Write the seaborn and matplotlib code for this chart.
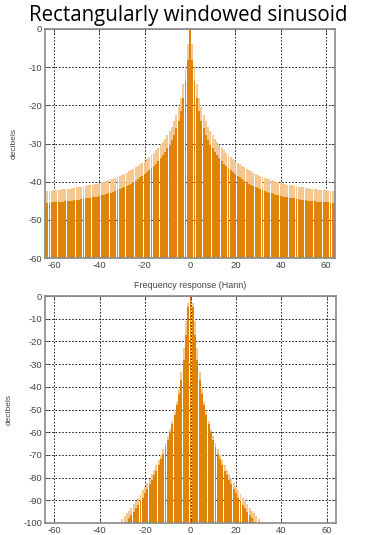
import numpy as np
import pandas as pd
import matplotlib
matplotlib.use("Agg")
import matplotlib.pyplot as plt
import seaborn as sns

# ---------------- data ----------------
bins = list(range(-64, 65))

# Rectangular window spectrum (dB), k = -64..64
rect_light = [
    -42.5, -42.5, -42.4, -42.4, -42.3, -42.2, -42.2, -42.1, -42.0, -42.0,
    -41.9, -41.8, -41.7, -41.6, -41.5, -41.4, -41.3, -41.2, -41.1, -41.0,
    -40.9, -40.8, -40.6, -40.5, -40.3, -40.2, -40.0, -39.8, -39.6, -39.4,
    -39.2, -39.0, -38.7, -38.5, -38.2, -37.9, -37.6, -37.3, -37.0, -36.6,
    -36.2, -35.8, -35.4, -35.0, -34.5, -34.0, -33.5, -33.0, -32.4, -31.8,
    -31.1, -30.4, -29.6, -28.8, -27.8, -26.8, -25.6, -24.2, -22.5, -20.5,
    -18.0, -14.5, -10.0, -4.0,
    0.0,
    -4.0, -10.0, -14.5, -18.0, -20.5, -22.5, -24.2, -25.6, -26.8, -27.8,
    -28.8, -29.6, -30.4, -31.1, -31.8, -32.4, -33.0, -33.5, -34.0, -34.5,
    -35.0, -35.4, -35.8, -36.2, -36.6, -37.0, -37.3, -37.6, -37.9, -38.2,
    -38.5, -38.7, -39.0, -39.2, -39.4, -39.6, -39.8, -40.0, -40.2, -40.3,
    -40.5, -40.6, -40.8, -40.9, -41.0, -41.1, -41.2, -41.3, -41.4, -41.5,
    -41.6, -41.7, -41.8, -41.9, -42.0, -42.0, -42.1, -42.2, -42.2, -42.3,
    -42.4, -42.4, -42.5, -42.5,
]
rect_dark = [
    -45.5, -45.5, -45.5, -45.4, -45.4, -45.3, -45.3, -45.2, -45.2, -45.1,
    -45.1, -45.0, -45.0, -44.9, -44.8, -44.7, -44.6, -44.5, -44.4, -44.3,
    -44.2, -44.1, -44.0, -43.9, -43.7, -43.6, -43.5, -43.3, -43.1, -42.9,
    -42.7, -42.5, -42.2, -42.0, -41.7, -41.4, -41.1, -40.8, -40.5, -40.1,
    -39.7, -39.3, -38.9, -38.5, -38.0, -37.5, -37.0, -36.5, -35.9, -35.3,
    -34.6, -33.9, -33.1, -32.3, -31.3, -30.3, -29.1, -27.7, -26.0, -24.0,
    -21.5, -18.0, -13.5, -8.0,
    0.0,
    -8.0, -13.5, -18.0, -21.5, -24.0, -26.0, -27.7, -29.1, -30.3, -31.3,
    -32.3, -33.1, -33.9, -34.6, -35.3, -35.9, -36.5, -37.0, -37.5, -38.0,
    -38.5, -38.9, -39.3, -39.7, -40.1, -40.5, -40.8, -41.1, -41.4, -41.7,
    -42.0, -42.2, -42.5, -42.7, -42.9, -43.1, -43.3, -43.5, -43.6, -43.7,
    -43.9, -44.0, -44.1, -44.2, -44.3, -44.4, -44.5, -44.6, -44.7, -44.8,
    -44.9, -45.0, -45.0, -45.1, -45.1, -45.2, -45.2, -45.3, -45.3, -45.4,
    -45.4, -45.5, -45.5, -45.5,
]

# Hann window spectrum (dB), k = -64..64
hann_light = [
    -110, -110, -110, -110, -110, -110, -110, -110, -110, -110,
    -110, -110, -110, -110, -110, -110, -110, -110, -110, -110,
    -110, -110, -110, -110, -110, -110, -110, -110, -110, -110,
    -110, -102.0, -100.6, -99.4, -98.2, -97.0, -95.8, -94.5, -93.2, -91.8,
    -90.3, -88.8, -87.2, -85.6, -84.0, -82.3, -80.5, -78.6, -76.6, -74.5,
    -72.3, -70.0, -67.5, -64.8, -61.8, -58.5, -55.0, -51.0, -46.5, -41.0,
    -33.5, -23.0, -11.0, -3.0,
    0.0,
    -3.0, -11.0, -23.0, -33.5, -41.0, -46.5, -51.0, -55.0, -58.5, -61.8,
    -64.8, -67.5, -70.0, -72.3, -74.5, -76.6, -78.6, -80.5, -82.3, -84.0,
    -85.6, -87.2, -88.8, -90.3, -91.8, -93.2, -94.5, -95.8, -97.0, -98.2,
    -99.4, -100.6, -102.0, -110, -110, -110, -110, -110, -110, -110,
    -110, -110, -110, -110, -110, -110, -110, -110, -110, -110,
    -110, -110, -110, -110, -110, -110, -110, -110, -110, -110,
    -110, -110, -110, -110,
]
hann_dark = [
    -110, -110, -110, -110, -110, -110, -110, -110, -110, -110,
    -110, -110, -110, -110, -110, -110, -110, -110, -110, -110,
    -110, -110, -110, -110, -110, -110, -110, -110, -110, -110,
    -110, -110, -110, -110, -102.5, -101.0, -99.5, -98.0, -96.5, -95.0,
    -93.5, -92.0, -90.5, -89.0, -87.0, -85.0, -83.0, -81.0, -79.0, -77.0,
    -74.5, -72.0, -69.5, -66.5, -63.5, -60.0, -56.5, -52.5, -48.0, -43.0,
    -37.0, -28.0, -17.0, -5.0,
    0.0,
    -5.0, -17.0, -28.0, -37.0, -43.0, -48.0, -52.5, -56.5, -60.0, -63.5,
    -66.5, -69.5, -72.0, -74.5, -77.0, -79.0, -81.0, -83.0, -85.0, -87.0,
    -89.0, -90.5, -92.0, -93.5, -95.0, -96.5, -98.0, -99.5, -101.0, -102.5,
    -110, -110, -110, -110, -110, -110, -110, -110, -110, -110,
    -110, -110, -110, -110, -110, -110, -110, -110, -110, -110,
    -110, -110, -110, -110, -110, -110, -110, -110, -110, -110,
    -110, -110, -110, -110,
]

title_text = "Rectangularly windowed sinusoid"
subtitle_text = "Frequency response (Hann)"
ylabel_text = "decibels"
xticks = [-60, -40, -20, 0, 20, 40, 60]
yticks_top = [0, -10, -20, -30, -40, -50, -60]
yticks_bot = [0, -10, -20, -30, -40, -50, -60, -70, -80, -90, -100]

DARK = "#DE7E00"
LIGHT = "#F4C487"

# ---------------- plot ----------------
sns.set_style("white")
plt.rcParams["font.family"] = ["Liberation Sans", "DejaVu Sans"]

fig = plt.figure(figsize=(3.65, 5.35), dpi=100)
ax1 = fig.add_axes([45 / 365, 1 - 258 / 535, 290 / 365, 229 / 535])
ax2 = fig.add_axes([45 / 365, 1 - 523 / 535, 291 / 365, 227 / 535])


def draw(ax, light, dark, floor, yticks):
    df_l = pd.DataFrame({"k": bins, "h": [v - floor for v in light]})
    df_d = pd.DataFrame({"k": bins, "h": [v - floor for v in dark]})
    sns.barplot(data=df_l, x="k", y="h", native_scale=True, width=0.85,
                color=LIGHT, saturation=1, linewidth=0, errorbar=None,
                bottom=floor, alpha=0.92, ax=ax)
    sns.barplot(data=df_d, x="k", y="h", native_scale=True, width=0.85,
                color=DARK, saturation=1, linewidth=0, errorbar=None,
                bottom=floor, alpha=0.93, ax=ax)
    ax.set_xlim(-64, 64)
    ax.set_ylim(floor, 0)
    ax.set_xticks(xticks)
    ax.set_xticklabels([str(t) for t in xticks])
    ax.set_yticks(yticks)
    ax.set_yticklabels([str(t) for t in yticks])
    ax.set_xlabel("")
    ax.set_ylabel(ylabel_text, fontsize=6, color="#444444", labelpad=8)
    ax.grid(True, color="black", linestyle=(0, (2, 2)), linewidth=0.6)
    ax.set_axisbelow(True)
    ax.tick_params(axis="both", direction="in", length=3, width=0.6,
                   labelsize=6.8, colors="#444444", pad=2,
                   top=True, right=True, bottom=True, left=True)
    for s in ax.spines.values():
        s.set_visible(True)
        s.set_color("#8a8a8a")
        s.set_linewidth(1.2)


draw(ax1, rect_light, rect_dark, -60, yticks_top)
draw(ax2, hann_light, hann_dark, -100, yticks_bot)

ax2.set_title(subtitle_text, fontsize=6.5, color="#444444", pad=6)
fig.text(188 / 365, 1 - 16 / 535, title_text, ha="center", va="center",
         fontsize=14.8, family=["Open Sans", "DejaVu Sans"], color="black")

fig.savefig("out.png", dpi=100)
